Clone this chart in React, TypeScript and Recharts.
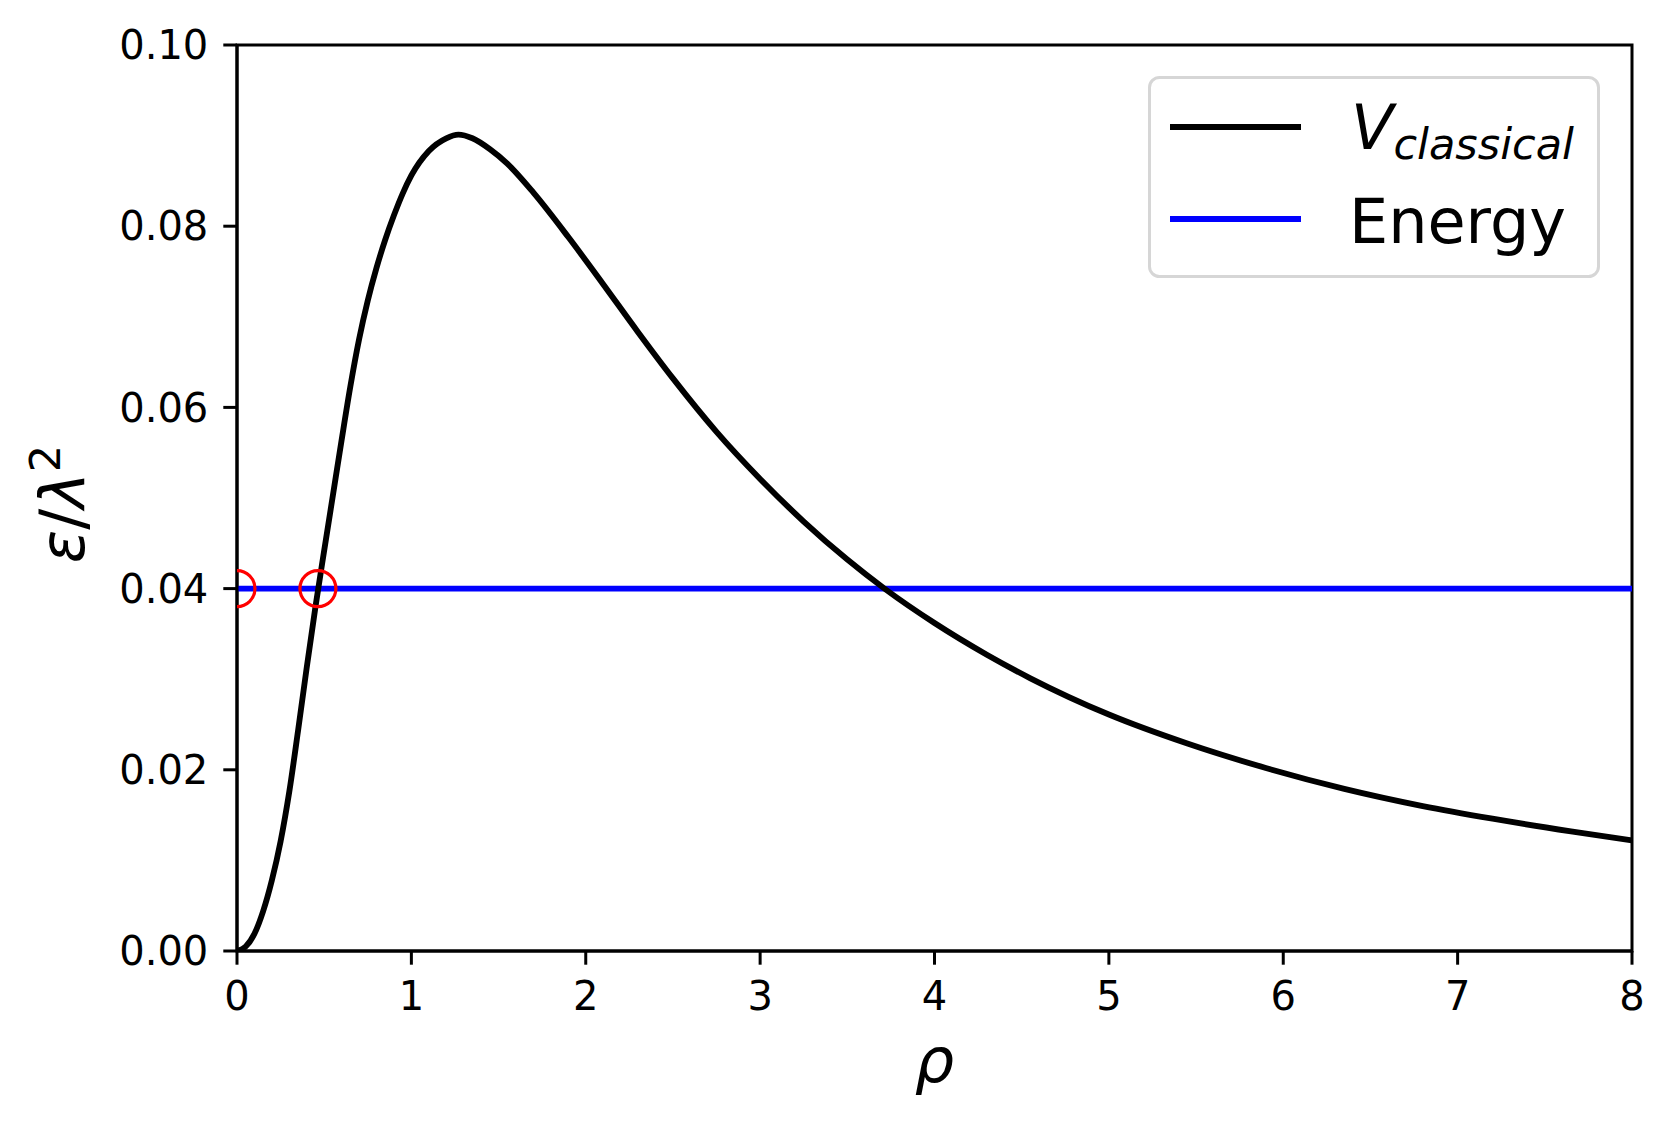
import React from "react";
import {
  ComposedChart,
  Line,
  Scatter,
  XAxis,
  YAxis,
  Legend,
  ReferenceArea,
} from "recharts";

// rho grid and V_classical
const rho = [
  0, 0.05, 0.1, 0.15, 0.2, 0.25, 0.3, 0.35, 0.4, 0.45, 0.5, 0.55, 0.6, 0.65,
  0.7, 0.75, 0.8, 0.85, 0.9, 0.95, 1.0, 1.1, 1.2, 1.27, 1.35, 1.45, 1.55, 1.7,
  1.9, 2.1, 2.3, 2.5, 2.75, 3.0, 3.25, 3.5, 3.72, 4.0, 4.3, 4.55, 5.0, 5.45,
  5.9, 6.35, 6.8, 7.2, 7.65, 8.0,
];
const vClassical = [
  0, 0.0005, 0.0019, 0.0044, 0.0078, 0.0121, 0.0176, 0.0243, 0.0313, 0.038,
  0.0442, 0.0503, 0.0564, 0.0623, 0.0675, 0.0718, 0.0754, 0.0785, 0.0812,
  0.0836, 0.0856, 0.0883, 0.0897, 0.0901, 0.0897, 0.0885, 0.0869, 0.0837,
  0.0788, 0.0736, 0.0683, 0.0632, 0.0573, 0.0521, 0.0474, 0.0432, 0.0399,
  0.0362, 0.0327, 0.0301, 0.0261, 0.0229, 0.0202, 0.0179, 0.016, 0.0146,
  0.0132, 0.0122,
];

const energyLevel = 0.04;
const energyRho = [0, 8];
const turningRho = [0, 0.464];

const xTicks = [0, 1, 2, 3, 4, 5, 6, 7, 8];
const yTicks = [0, 0.02, 0.04, 0.06, 0.08, 0.1];

const curveData = rho.map((r, i) => ({ rho: r, v: vClassical[i] }));
const energyData = energyRho.map((r) => ({ rho: r, v: energyLevel }));
const turningData = turningRho.map((r) => ({ rho: r, v: energyLevel }));

const FONT = "DejaVu Sans";
const LW = 5.85;

function Ring({ cx, cy }: { cx: number; cy: number }) {
  return <circle cx={cx} cy={cy} r={18} fill="none" stroke="#ff0000" strokeWidth={3.2} />;
}

function YLabel({ viewBox }: any) {
  const cy = viewBox.y + viewBox.height / 2 + 6;
  return (
    <text
      transform="rotate(-90)"
      x={-cy}
      y={84}
      textAnchor="middle"
      fontFamily={FONT}
      fontSize={62}
      fill="#000"
    >
      <tspan fontStyle="italic">ε</tspan>
      <tspan>/</tspan>
      <tspan fontStyle="italic">λ</tspan>
      <tspan fontSize={43} dy={-24}>2</tspan>
    </text>
  );
}

function XLabel({ viewBox }: any) {
  return (
    <text
      x={viewBox.x + viewBox.width / 2}
      y={1082}
      textAnchor="middle"
      fontFamily={FONT}
      fontSize={62}
      fontStyle="italic"
      fill="#000"
    >
      ρ
    </text>
  );
}

const legendOrder = ["V_classical", "Energy"];

function LegendBox({ payload }: any) {
  const items = (payload || [])
    .filter((p: any) => legendOrder.includes(p.value))
    .sort((a: any, b: any) => legendOrder.indexOf(a.value) - legendOrder.indexOf(b.value));
  return (
    <svg width={452} height={202} style={{ display: "block" }}>
      <rect x={1.5} y={1.5} width={449} height={199} rx={10} ry={10} fill="#fff" fillOpacity={0.8} stroke="#d6d6d6" strokeWidth={3} />
      {items.map((it: any, i: number) => {
        const ly = 51 + i * 92;
        return (
          <g key={it.value}>
            <line x1={22} x2={153} y1={ly} y2={ly} stroke={it.color} strokeWidth={LW} />
            {it.value === "V_classical" ? (
              <text x={203} y={ly + 22} fontFamily={FONT} fontSize={62} fill="#000" fontStyle="italic">
                V
                <tspan fontSize={43} dy={10}>classical</tspan>
              </text>
            ) : (
              <text x={201} y={ly + 24} fontFamily={FONT} fontSize={62} fill="#000">
                {it.value}
              </text>
            )}
          </g>
        );
      })}
    </svg>
  );
}

export default function App() {
  return (
    <div style={{ position: "absolute", left: 0, top: 0, width: 1675, height: 1127, background: "#fff" }}>
      <ComposedChart
        width={1675}
        height={1127}
        margin={{ top: 45, right: 43, bottom: 0, left: 0 }}
        style={{ fontFamily: FONT }}
      >
        <XAxis
          dataKey="rho"
          type="number"
          domain={[0, 8]}
          ticks={xTicks}
          allowDataOverflow
          height={176}
          tickSize={13.7}
          tickMargin={17}
          tick={{ fontSize: 40, fill: "#000", fontFamily: FONT }}
          tickLine={{ stroke: "#000", strokeWidth: 3 }}
          axisLine={{ stroke: "#000", strokeWidth: 3 }}
          label={<XLabel />}
        />
        <YAxis
          type="number"
          domain={[0, 0.1]}
          ticks={yTicks}
          allowDataOverflow
          width={237}
          tickSize={13.7}
          tickMargin={15}
          tickFormatter={(v: number) => v.toFixed(2)}
          tick={{ fontSize: 40, fill: "#000", fontFamily: FONT }}
          tickLine={{ stroke: "#000", strokeWidth: 3 }}
          axisLine={{ stroke: "#000", strokeWidth: 3 }}
          label={<YLabel />}
        />
        <Scatter
          data={turningData}
          dataKey="v"
          legendType="none"
          shape={(p: any) => <Ring cx={p.cx} cy={p.cy} />}
          isAnimationActive={false}
        />
        <Line
          data={energyData}
          dataKey="v"
          name="Energy"
          type="linear"
          stroke="#0000ff"
          strokeWidth={LW}
          dot={false}
          activeDot={false}
          isAnimationActive={false}
        />
        <Line
          data={curveData}
          dataKey="v"
          name="V_classical"
          type="monotone"
          stroke="#000000"
          strokeWidth={LW}
          dot={false}
          activeDot={false}
          isAnimationActive={false}
        />
        <ReferenceArea
          x1={0}
          x2={8}
          y1={0}
          y2={0.1}
          fill="none"
          fillOpacity={0}
          stroke="#000"
          strokeWidth={3}
          strokeOpacity={1}
          ifOverflow="visible"
        />
        <Legend
          layout="vertical"
          align="center"
          verticalAlign="middle"
          content={<LegendBox />}
          wrapperStyle={{ position: "absolute", left: 1148, top: 76, width: 452, height: 202 }}
        />
      </ComposedChart>
    </div>
  );
}
